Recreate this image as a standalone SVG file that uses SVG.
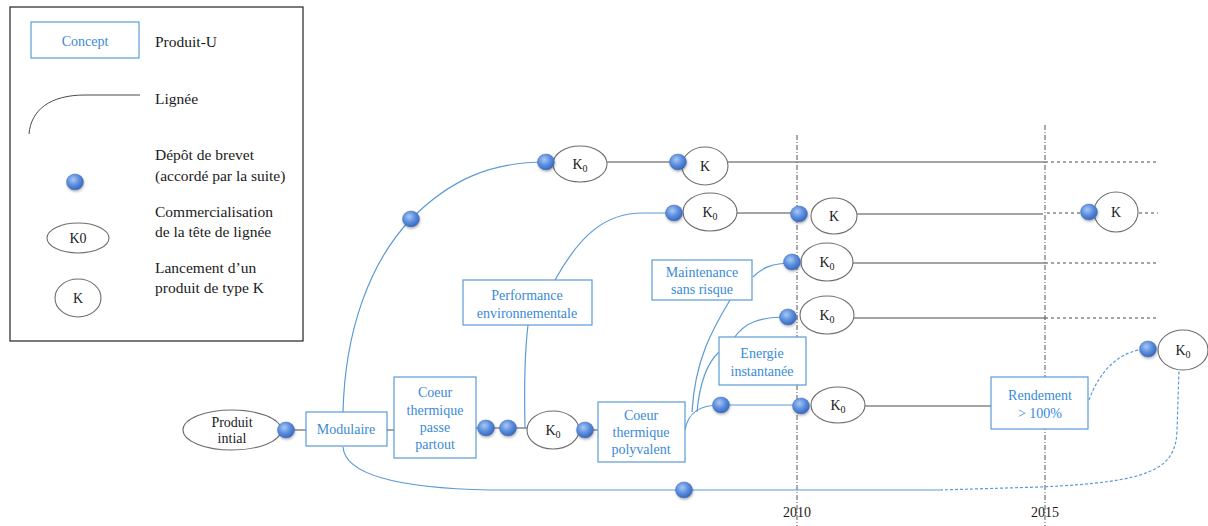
<svg xmlns="http://www.w3.org/2000/svg" width="1208" height="526" viewBox="0 0 1208 526">
<defs>
<radialGradient id="dotg" cx="0.4" cy="0.35" r="0.65">
<stop offset="0" stop-color="#a9c8f2"/>
<stop offset="0.55" stop-color="#5b8ee0"/>
<stop offset="1" stop-color="#3c68b8"/>
</radialGradient>
<filter id="sh" x="-50%" y="-50%" width="200%" height="200%">
<feDropShadow dx="0.5" dy="1.5" stdDeviation="1.2" flood-color="#000" flood-opacity="0.3"/>
</filter>
<style>
text{font-family:'Liberation Serif','DejaVu Serif',serif}
.t{font-size:14px;fill:#1a1a1a}
.lg{font-size:15.5px;fill:#1a1a1a}
.bt{font-size:14px;fill:#3a8ad6;text-anchor:middle}
.box{fill:#fff;stroke:#5b9bd5;stroke-width:1.2}
.ell{fill:#fff;stroke:#6e6e6e;stroke-width:1.1}
.blue{fill:none;stroke:#5b9bd5;stroke-width:1.2}
.bdash{fill:none;stroke:#5b9bd5;stroke-width:1.2;stroke-dasharray:3 2}
.dk{fill:none;stroke:#4a4a4a;stroke-width:1}
.dash{fill:none;stroke:#4a4a4a;stroke-width:1;stroke-dasharray:3 3}
.yr{fill:none;stroke:#555;stroke-width:1;stroke-dasharray:5 2 1 2}
.dot{fill:url(#dotg);stroke:#4a72b8;stroke-width:0.5;filter:url(#sh)}
.c{text-anchor:middle}
</style>
</defs>

<g id="legend">
<rect x="10" y="7" width="293" height="334" fill="#fff" stroke="#222" stroke-width="1.2"/>
<rect class="box" x="31" y="22" width="108" height="36"/>
<text class="bt" x="85" y="46">Concept</text>
<text class="lg" x="155" y="47">Produit-U</text>
<path class="dk" d="M29,134 C31,110 50,95 85,95 L140,95" stroke="#555"/>
<text class="lg" x="155" y="104">Lignée</text>
<ellipse class="dot" cx="75" cy="182" rx="8.5" ry="8"/>
<text class="lg" x="155" y="160">Dépôt de brevet</text>
<text class="lg" x="155" y="181">(accordé par la suite)</text>
<ellipse class="ell" cx="78" cy="238" rx="31" ry="15"/>
<text class="t c" x="78" y="243">K0</text>
<text class="lg" x="155" y="217">Commercialisation</text>
<text class="lg" x="155" y="237">de la tête de lignée</text>
<ellipse class="ell" cx="78" cy="298" rx="23" ry="19"/>
<text class="t c" x="78" y="303">K</text>
<text class="lg" x="155" y="273">Lancement d’un</text>
<text class="lg" x="155" y="293">produit de type K</text>
</g>

<g id="timeline">
<line class="yr" x1="797" y1="135" x2="797" y2="526"/>
<line class="yr" x1="1045" y1="125" x2="1045" y2="526"/>
<text class="t c" x="797" y="517">2010</text>
<text class="t c" x="1045" y="517">2015</text>
</g>

<g id="connectors">
<line class="dk" x1="281" y1="430" x2="306" y2="430"/>
<line class="dk" x1="387" y1="430" x2="394" y2="430"/>
<line class="dk" x1="476" y1="428" x2="527" y2="428"/>
<line class="dk" x1="579" y1="430" x2="598" y2="430"/>
<path class="blue" d="M343,412 C345,330 370,262 411,219 C450,180 490,162 546,162"/>
<line class="dk" x1="607" y1="162" x2="678" y2="162"/>
<line class="dk" x1="728" y1="162" x2="1045" y2="162"/>
<line class="dash" x1="1045" y1="162" x2="1158" y2="162"/>
<path class="blue" d="M343,447 C345,472 390,488 490,490 L940,490"/>
<path class="bdash" d="M940,490 L1040,487 C1150,482 1176,470 1177,430 L1179,370"/>
<path class="blue" d="M525,428 C524,385 525,350 528,325"/>
<path class="blue" d="M555,280 C580,235 605,213 643,213 L673,213"/>
<line class="dk" x1="737" y1="213" x2="799" y2="213"/>
<line class="dk" x1="857" y1="214" x2="1043" y2="214"/>
<line class="dash" x1="1047" y1="213" x2="1083" y2="213"/>
<line class="dash" x1="1139" y1="213" x2="1158" y2="213"/>
<path class="blue" d="M685,430 C688,412 700,405 720,405"/>
<line class="blue" x1="720" y1="405" x2="801" y2="405"/>
<path class="blue" d="M692,412 C695,360 712,330 730,300"/>
<path class="blue" d="M697,412 C700,380 708,362 719,352"/>
<path class="blue" d="M734,338 C745,322 760,317 788,317"/>
<path class="blue" d="M753,277 C762,268 772,263 792,263"/>
<line class="dk" x1="853" y1="263" x2="1045" y2="263"/>
<line class="dash" x1="1045" y1="263" x2="1157" y2="263"/>
<line class="dk" x1="854" y1="318" x2="1045" y2="318"/>
<line class="dash" x1="1045" y1="318" x2="1158" y2="318"/>
<line class="dk" x1="865" y1="406" x2="991" y2="406"/>
<path class="bdash" d="M1089,400 C1100,370 1120,350 1148,349"/>
</g>

<g id="n-produit"><ellipse class="ell" cx="232" cy="430" rx="49" ry="20"/><text class="t c" x="232" y="427">Produit</text><text class="t c" x="232" y="443">intial</text></g>
<g id="n-modulaire"><rect class="box" x="306" y="412" width="81" height="34"/><text class="bt" x="346" y="434">Modulaire</text></g>
<g id="n-passe"><rect class="box" x="394" y="377" width="82" height="81"/><text class="bt" x="435" y="397">Coeur</text><text class="bt" x="435" y="415">thermique</text><text class="bt" x="435" y="432">passe</text><text class="bt" x="435" y="449">partout</text></g>
<g id="n-k0a"><ellipse class="ell" cx="553" cy="430" rx="26" ry="19"/><text class="t c" x="553" y="435">K<tspan font-size="10" dy="3">0</tspan></text></g>
<g id="n-polyvalent"><rect class="box" x="598" y="402" width="87" height="60"/><text class="bt" x="641" y="420">Coeur</text><text class="bt" x="641" y="437">thermique</text><text class="bt" x="641" y="454">polyvalent</text></g>
<g id="n-k0b"><ellipse class="ell" cx="838" cy="405" rx="27" ry="18"/><text class="t c" x="838" y="410">K<tspan font-size="10" dy="3">0</tspan></text></g>
<g id="n-rendement"><rect class="box" x="991" y="377" width="97" height="52"/><text class="bt" x="1040" y="400">Rendement</text><text class="bt" x="1040" y="418">&gt; 100%</text></g>
<g id="n-k0c"><ellipse class="ell" cx="1183" cy="350" rx="25" ry="20"/><text class="t c" x="1183" y="355">K<tspan font-size="10" dy="3">0</tspan></text></g>
<g id="n-perf"><rect class="box" x="463" y="280" width="129" height="45"/><text class="bt" x="527" y="300">Performance</text><text class="bt" x="527" y="318">environnementale</text></g>
<g id="n-maint"><rect class="box" x="652" y="260" width="100" height="40"/><text class="bt" x="702" y="277">Maintenance</text><text class="bt" x="702" y="294">sans risque</text></g>
<g id="n-energie"><rect class="box" x="719" y="337" width="87" height="48"/><text class="bt" x="762" y="358">Energie</text><text class="bt" x="762" y="376">instantanée</text></g>
<g id="n-k0d"><ellipse class="ell" cx="580" cy="164" rx="27" ry="18"/><text class="t c" x="580" y="169">K<tspan font-size="10" dy="3">0</tspan></text></g>
<g id="n-k1"><ellipse class="ell" cx="705" cy="166" rx="23" ry="19"/><text class="t c" x="705" y="171">K</text></g>
<g id="n-k0e"><ellipse class="ell" cx="710" cy="212" rx="27" ry="19"/><text class="t c" x="710" y="217">K<tspan font-size="10" dy="3">0</tspan></text></g>
<g id="n-k2"><ellipse class="ell" cx="834" cy="216" rx="23" ry="18"/><text class="t c" x="834" y="221">K</text></g>
<g id="n-k3"><ellipse class="ell" cx="1116" cy="212" rx="22" ry="20"/><text class="t c" x="1116" y="217">K</text></g>
<g id="n-k0f"><ellipse class="ell" cx="827" cy="262" rx="26" ry="19"/><text class="t c" x="827" y="267">K<tspan font-size="10" dy="3">0</tspan></text></g>
<g id="n-k0g"><ellipse class="ell" cx="827" cy="315" rx="27" ry="19"/><text class="t c" x="827" y="320">K<tspan font-size="10" dy="3">0</tspan></text></g>

<g id="patents">
<ellipse class="dot" cx="286" cy="430" rx="8.5" ry="8"/>
<ellipse class="dot" cx="486" cy="428" rx="8.5" ry="8"/>
<ellipse class="dot" cx="508" cy="428" rx="8.5" ry="8"/>
<ellipse class="dot" cx="585" cy="430" rx="8.5" ry="8"/>
<ellipse class="dot" cx="721" cy="405" rx="8.5" ry="8"/>
<ellipse class="dot" cx="801" cy="406" rx="8.5" ry="8"/>
<ellipse class="dot" cx="684" cy="490" rx="8.5" ry="8"/>
<ellipse class="dot" cx="411" cy="219" rx="8.5" ry="8"/>
<ellipse class="dot" cx="546" cy="162" rx="8.5" ry="8"/>
<ellipse class="dot" cx="678" cy="162" rx="8.5" ry="8"/>
<ellipse class="dot" cx="674" cy="213" rx="8.5" ry="8"/>
<ellipse class="dot" cx="799" cy="214" rx="8.5" ry="8"/>
<ellipse class="dot" cx="792" cy="262" rx="8.5" ry="8"/>
<ellipse class="dot" cx="788" cy="317" rx="8.5" ry="8"/>
<ellipse class="dot" cx="1089" cy="212" rx="8.5" ry="8"/>
<ellipse class="dot" cx="1148" cy="349" rx="8.5" ry="8"/>
</g>
</svg>
